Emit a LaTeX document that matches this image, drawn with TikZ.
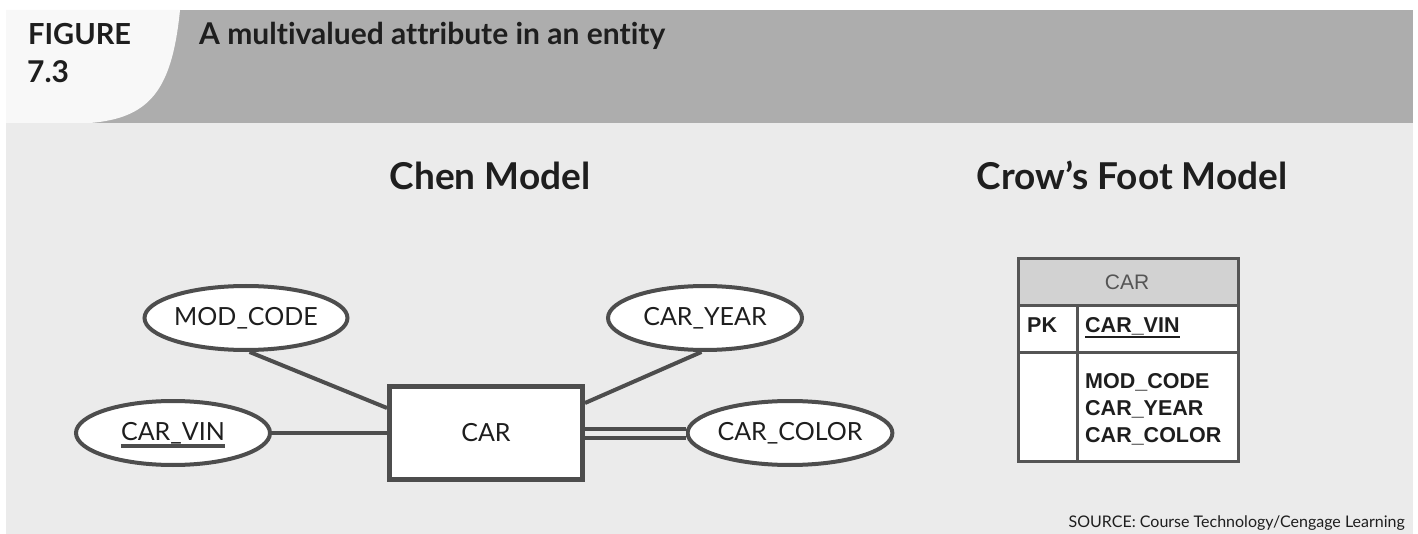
\documentclass[tikz,border=0pt]{standalone}
\usepackage{fontspec}
\setmainfont{Lato}[Ligatures=NoCommon]
\newfontfamily\arialfont{Liberation Sans}
\usetikzlibrary{shapes.geometric}
\definecolor{panel}{HTML}{EBEBEB}
\definecolor{band}{HTML}{ADADAD}
\definecolor{tabwhite}{HTML}{F8F8F8}
\definecolor{ink}{HTML}{4D4D4D}
\definecolor{txt}{HTML}{1E1E1E}
\definecolor{hdrfill}{HTML}{D2D2D2}
\definecolor{tblink}{HTML}{555555}
\tikzset{
  attr/.style={ellipse, draw=ink, line width=4pt, fill=white,
    minimum width=194pt, minimum height=64pt, inner sep=0pt,
    text=txt, font=\fontsize{25}{30}\selectfont},
  attrtext/.style={inner sep=0pt, text=txt, font=\fontsize{25}{30}\selectfont},
  entbox/.style={rectangle, draw=ink, line width=5pt, fill=white,
    minimum width=193pt, minimum height=93pt, inner sep=0pt,
    text=txt, font=\fontsize{25}{30}\selectfont},
  link/.style={draw=ink, line width=4pt},
  dbllink/.style={draw=ink, line width=4pt, double=panel, double distance=5pt},
  heading/.style={inner sep=0pt, text=txt, font=\bfseries\fontsize{37}{44}\selectfont},
  tbl/.style={inner sep=0pt, anchor=base west, text=txt,
    font=\arialfont\bfseries\fontsize{21.5}{26}\selectfont},
  tblline/.style={draw=tblink, line width=3pt},
}
\begin{document}
\begin{tikzpicture}[x=1pt, y=-1pt]
\useasboundingbox (0,0) rectangle (1418,534);
\fill[white] (0,0) rectangle (1418,534);
% header band and figure tab
\fill[band] (6,10) rectangle (1413,123);
\fill[tabwhite] (6,10) -- (180,10) .. controls (172,90) and (150,118) .. (90,123) -- (6,123) -- cycle;
\fill[panel] (6,123) rectangle (1413,534);
\node[inner sep=0pt, anchor=base west, text=txt, font=\bfseries\fontsize{29}{34}\selectfont] (figlabel) at (28,45) {FIGURE};
\node[inner sep=0pt, anchor=base west, text=txt, font=\bfseries\fontsize{30}{35}\selectfont] (fignum) at (27,83) {7.3};
\node[inner sep=0pt, anchor=base west, text=txt, font=\bfseries\fontsize{30}{35}\selectfont] (title) at (199,45) {A multivalued attribute in an entity};

% section headings
\node[heading, anchor=base] (chenhead) at (490,190) {Chen Model};
\node[heading, anchor=base] (crowhead) at (1132,190) {Crow’s Foot Model};

% Chen model
\node[entbox] (car) at (486,433) {CAR};
\node[attr] (mod) at (246,318) {MOD\_CODE};
\node[attr] (year) at (705,318) {CAR\_YEAR};
\node[attr] (vin) at (173,433) {};
\node[attrtext] (vintext) at (vin.center) {CAR\_VIN};
\node[attr] (color) at (790,433) {CAR\_COLOR};
\draw[link] ([yshift=-6pt]vintext.base west) -- ([yshift=-6pt]vintext.base east);

\draw[link] (mod.-84) -- ([yshift=25pt]car.west);
\draw[link] (vin.east) -- (car.west);
\draw[link] (year.-96) -- ([yshift=30pt]car.east);
\draw[dbllink] (car.east) -- (color.west);

% Crow's Foot model
\fill[white] (1018,259) rectangle (1238,461);
\fill[hdrfill] (1018,259) rectangle (1238,306);
\draw[tblline] (1018,306) -- (1238,306);
\draw[tblline] (1018,352) -- (1238,352);
\draw[tblline] (1077,306) -- (1077,461);
\draw[tblline] (1018,259) rectangle (1238,461);
\node[inner sep=0pt, anchor=base, text=tblink, font=\arialfont\fontsize{21}{25}\selectfont] (tblname) at (1127,290) {CAR};
\node[tbl] (pk) at (1027,333) {PK};
\node[tbl] (pkattr) at (1085,333) {CAR\_VIN};
\draw[draw=txt, line width=2pt] ([yshift=-4pt]pkattr.base west) -- ([yshift=-4pt]pkattr.base east);
\node[tbl] (a1) at (1085,388) {MOD\_CODE};
\node[tbl] (a2) at (1085,415) {CAR\_YEAR};
\node[tbl] (a3) at (1085,442) {CAR\_COLOR};

% source line
\node[inner sep=0pt, anchor=base east, text=txt, font=\fontsize{16}{19}\selectfont] (source) at (1405,527) {SOURCE: Course Technology/Cengage Learning};
\end{tikzpicture}
\end{document}
